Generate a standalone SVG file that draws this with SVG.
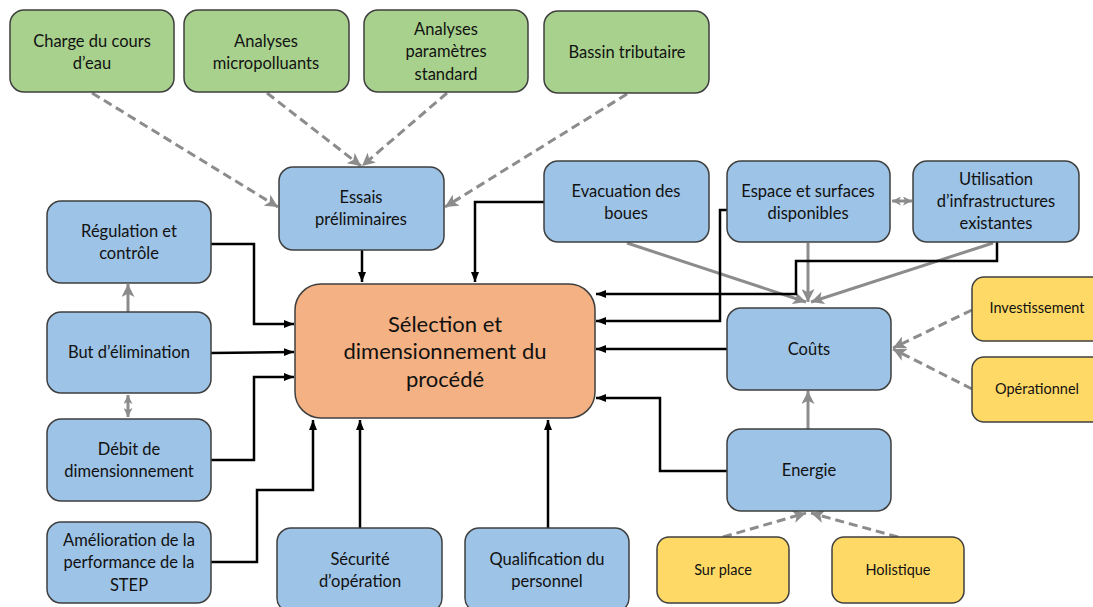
<svg xmlns="http://www.w3.org/2000/svg" width="1093" height="607" viewBox="0 0 1093 607">
<defs>
<style>
.n{stroke:#3f3f3f;stroke-width:1.5}
.g{fill:#a9d18e}.b{fill:#9dc3e6}.o{fill:#f4b183}.y{fill:#ffd966}
text{font-family:Lato,"Liberation Sans",sans-serif;font-size:16.5px;fill:#111;text-anchor:middle}
.sm{font-size:14.5px}
.big{font-size:22px}
.k{fill:none;stroke:#000;stroke-width:2.5;marker-end:url(#ak)}
.s{fill:none;stroke:#8c8c8c;stroke-width:3;marker-end:url(#ag)}
.s2{fill:none;stroke:#8c8c8c;stroke-width:3;marker-end:url(#agm);marker-start:url(#agms)}
.d{fill:none;stroke:#8c8c8c;stroke-width:3;stroke-dasharray:9 5;marker-end:url(#ag)}
</style>
<marker id="ak" markerUnits="userSpaceOnUse" viewBox="0 0 10 10" refX="10" refY="5" markerWidth="10" markerHeight="10" orient="auto"><path d="M0,1 L10,5 L0,9 z" fill="#000"/></marker>
<marker id="ag" markerUnits="userSpaceOnUse" viewBox="0 0 12 12" refX="12" refY="6" markerWidth="13" markerHeight="13" orient="auto"><path d="M0,0 L12,6 L0,12 L3,6 z" fill="#8c8c8c"/></marker>
<marker id="agm" markerUnits="userSpaceOnUse" viewBox="0 0 12 12" refX="12" refY="6" markerWidth="9" markerHeight="9" orient="auto"><path d="M0,0 L12,6 L0,12 L3,6 z" fill="#8c8c8c"/></marker>
<marker id="agms" markerUnits="userSpaceOnUse" viewBox="0 0 12 12" refX="0" refY="6" markerWidth="9" markerHeight="9" orient="auto"><path d="M12,0 L0,6 L12,12 L9,6 z" fill="#8c8c8c"/></marker>
</defs>

<g id="connectors">
<path class="d" d="M92,93 L278,207"/>
<path class="d" d="M267,93 L361,166"/>
<path class="d" d="M447,93 L362,166"/>
<path class="d" d="M627,94 L445,207"/>
<path class="d" d="M972,310 L893,348"/>
<path class="d" d="M972,389 L893,349"/>
<path class="d" d="M723,537 L806,513"/>
<path class="d" d="M898,537 L811,513"/>
<path class="s" d="M128,312 L128,284"/>
<path class="s2" d="M128,395 L128,417"/>
<path class="s" d="M808,429 L808,391"/>
<path class="s" d="M627,243 L806,302"/>
<path class="s" d="M808,243 L808,302"/>
<path class="s" d="M993,243 L811,302"/>
<path class="s2" d="M892,201 L912,201"/>
<path class="k" d="M211,244 L254,244 L254,324 L294,324"/>
<path class="k" d="M211,353 L294,352"/>
<path class="k" d="M211,460 L254,460 L254,377 L294,377"/>
<path class="k" d="M211,562 L257,562 L257,490 L313,490 L313,420"/>
<path class="k" d="M360,528 L360,420"/>
<path class="k" d="M548,528 L548,420"/>
<path class="k" d="M362,250 L362,282"/>
<path class="k" d="M544,202 L475,202 L475,282"/>
<path class="k" d="M997,242 L997,261 L796,261 L796,294 L596,294"/>
<path class="k" d="M727,210 L720,210 L720,321 L596,321"/>
<path class="k" d="M727,349 L596,349"/>
<path class="k" d="M727,471 L660,471 L660,398 L596,398"/>
</g>

<g id="charge"><rect class="n g" x="10" y="10" width="164" height="82" rx="14"/><text x="92" y="47">Charge du cours</text><text x="92" y="69">d’eau</text></g>
<g id="micro"><rect class="n g" x="184" y="10" width="165" height="82" rx="14"/><text x="266" y="47">Analyses</text><text x="266" y="69">micropolluants</text></g>
<g id="param"><rect class="n g" x="364" y="10" width="164" height="82" rx="14"/><text x="446" y="35">Analyses</text><text x="446" y="57">paramètres</text><text x="446" y="80">standard</text></g>
<g id="bassin"><rect class="n g" x="544" y="11" width="165" height="82" rx="14"/><text x="627" y="58">Bassin tributaire</text></g>

<g id="essais"><rect class="n b" x="279" y="167" width="165" height="83" rx="14"/><text x="361" y="203">Essais</text><text x="361" y="225">préliminaires</text></g>
<g id="evac"><rect class="n b" x="544" y="161" width="165" height="81" rx="14"/><text x="626" y="197">Evacuation des</text><text x="626" y="219">boues</text></g>
<g id="espace"><rect class="n b" x="727" y="161" width="163" height="81" rx="14"/><text x="808" y="197">Espace et surfaces</text><text x="808" y="219">disponibles</text></g>
<g id="util"><rect class="n b" x="913" y="161" width="166" height="81" rx="14"/><text x="996" y="185">Utilisation</text><text x="996" y="207">d’infrastructures</text><text x="996" y="229">existantes</text></g>

<g id="regul"><rect class="n b" x="47" y="201" width="164" height="82" rx="14"/><text x="129" y="237">Régulation et</text><text x="129" y="259">contrôle</text></g>
<g id="but"><rect class="n b" x="47" y="312" width="164" height="81" rx="14"/><text x="129" y="358">But d’élimination</text></g>
<g id="debit"><rect class="n b" x="47" y="419" width="164" height="82" rx="14"/><text x="129" y="455">Débit de</text><text x="129" y="477">dimensionnement</text></g>
<g id="amelio"><rect class="n b" x="47" y="522" width="164" height="81" rx="14"/><text x="129" y="546">Amélioration de la</text><text x="129" y="568">performance de la</text><text x="129" y="591">STEP</text></g>

<g id="center"><rect class="n o" x="295" y="284" width="300" height="134" rx="26"/><text class="big" x="445" y="332">Sélection et</text><text class="big" x="445" y="359">dimensionnement du</text><text class="big" x="445" y="387">procédé</text></g>

<g id="securite"><rect class="n b" x="277" y="528" width="165" height="84" rx="14"/><text x="360" y="565">Sécurité</text><text x="360" y="587">d’opération</text></g>
<g id="qualif"><rect class="n b" x="465" y="528" width="164" height="84" rx="14"/><text x="547" y="565">Qualification du</text><text x="547" y="587">personnel</text></g>

<g id="couts"><rect class="n b" x="727" y="308" width="164" height="82" rx="14"/><text x="809" y="355">Coûts</text></g>
<g id="energie"><rect class="n b" x="727" y="429" width="164" height="82" rx="14"/><text x="809" y="476">Energie</text></g>

<g id="invest"><rect class="n y" x="972" y="277" width="140" height="64" rx="12"/><text class="sm" x="1037" y="313">Investissement</text></g>
<g id="operat"><rect class="n y" x="972" y="357" width="140" height="65" rx="12"/><text class="sm" x="1037" y="394">Opérationnel</text></g>
<g id="surplace"><rect class="n y" x="657" y="537" width="132" height="66" rx="12"/><text class="sm" x="723" y="575">Sur place</text></g>
<g id="holist"><rect class="n y" x="832" y="537" width="132" height="66" rx="12"/><text class="sm" x="898" y="575">Holistique</text></g>
</svg>
